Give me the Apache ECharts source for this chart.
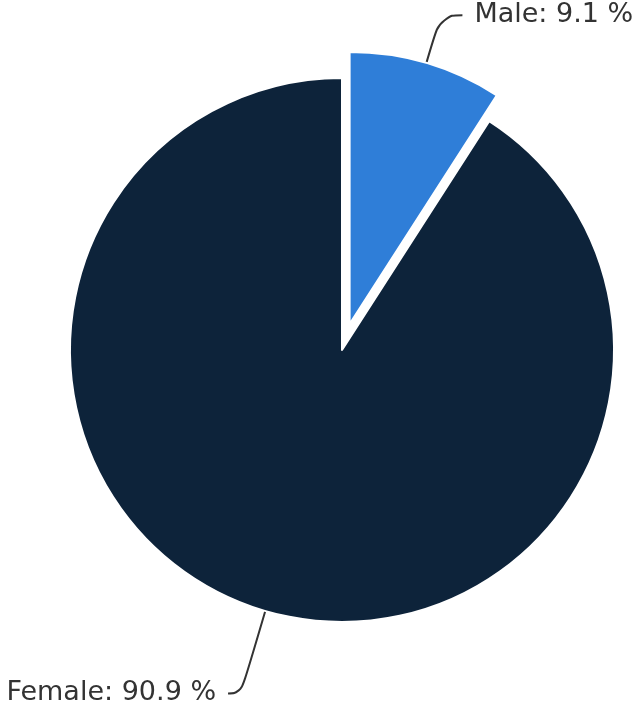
<!DOCTYPE html>
<html>
<head>
<meta charset="utf-8">
<script src="https://cdn.jsdelivr.net/npm/echarts@6/dist/echarts.min.js"></script>
<style>
html,body{margin:0;padding:0;background:#fff;}
#chart{width:640px;height:706px;}
</style>
</head>
<body>
<div id="chart"></div>
<script>
const categories = ['Male', 'Female'];
const shares = [9.1, 90.9];
const sliceColors = ['#2f7ed8', '#0d233a'];
const lineLengths = [50, 86];
const lineLengths2 = [22, 13];

const chart = echarts.init(document.getElementById('chart'));
const data = categories.map((name, i) => ({
  name: name,
  value: shares[i],
  selected: i === 0,
  itemStyle: { color: sliceColors[i] },
  labelLine: { length: lineLengths[i], length2: lineLengths2[i] }
}));

chart.setOption({
  animation: false,
  series: [{
    type: 'pie',
    center: [342, 350],
    radius: 272,
    startAngle: 90,
    clockwise: true,
    selectedMode: 'single',
    selectedOffset: 27,
    avoidLabelOverlap: false,
    itemStyle: { borderColor: '#ffffff', borderWidth: 2 },
    label: {
      show: true,
      formatter: p => p.name + ': ' + p.value + ' %',
      fontFamily: 'DejaVu Sans',
      fontSize: 27,
      color: '#333333',
      overflow: 'none',
      bleedMargin: 0,
      distanceToLabelLine: 12
    },
    labelLine: {
      show: true,
      smooth: 0.5,
      lineStyle: { color: '#333333', width: 2 }
    },
    emphasis: { disabled: true },
    data: data
  }]
});
</script>
</body>
</html>
